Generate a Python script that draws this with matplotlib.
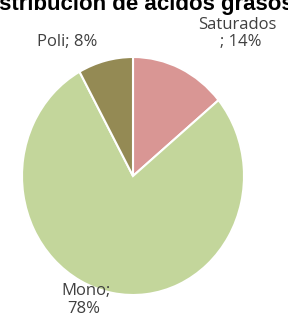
import matplotlib.pyplot as plt

labels = ['Saturados', 'Mono', 'Poli']
values = [14, 78, 8]
colors = ['#D99694', '#C3D69B', '#948A54']

W, H = 288, 329
fig = plt.figure(figsize=(W / 100, H / 100), dpi=100)

# pie spans x 22..244, y 57..295 (pixels from top) - slightly stretched vertically
ax = fig.add_axes([22 / W, 1 - 295 / H, 222 / W, 238 / H])
ax.pie(values, colors=colors, startangle=90, counterclock=False,
       wedgeprops=dict(edgecolor='white', linewidth=1.5))
ax.set_aspect('auto')
ax.set_xlim(-1, 1)
ax.set_ylim(-1, 1)
ax.axis('off')

txt = dict(color='#404040', fontsize=12, family='Open Sans', ha='center')
fig.text(237 / W, 1 - 29 / H, labels[0], va='baseline', **txt)
fig.text(241 / W, 1 - 46 / H, '; {}%'.format(values[0]), va='baseline', **txt)
fig.text(67 / W, 1 - 46 / H, '{}; {}%'.format(labels[2], values[2]), va='baseline', **txt)
fig.text(86 / W, 1 - 295 / H, '{};'.format(labels[1]), va='baseline', **txt)
fig.text(84 / W, 1 - 313 / H, '{}%'.format(values[1]), va='baseline', **txt)

# title is cut off at the top of the image
fig.text(135 / W, 1 - 10 / H, 'Distribución de ácidos grasos', ha='center', va='baseline',
         fontsize=16, fontweight='bold', family='Liberation Sans', color='black')

fig.savefig('out.png', dpi=100)
